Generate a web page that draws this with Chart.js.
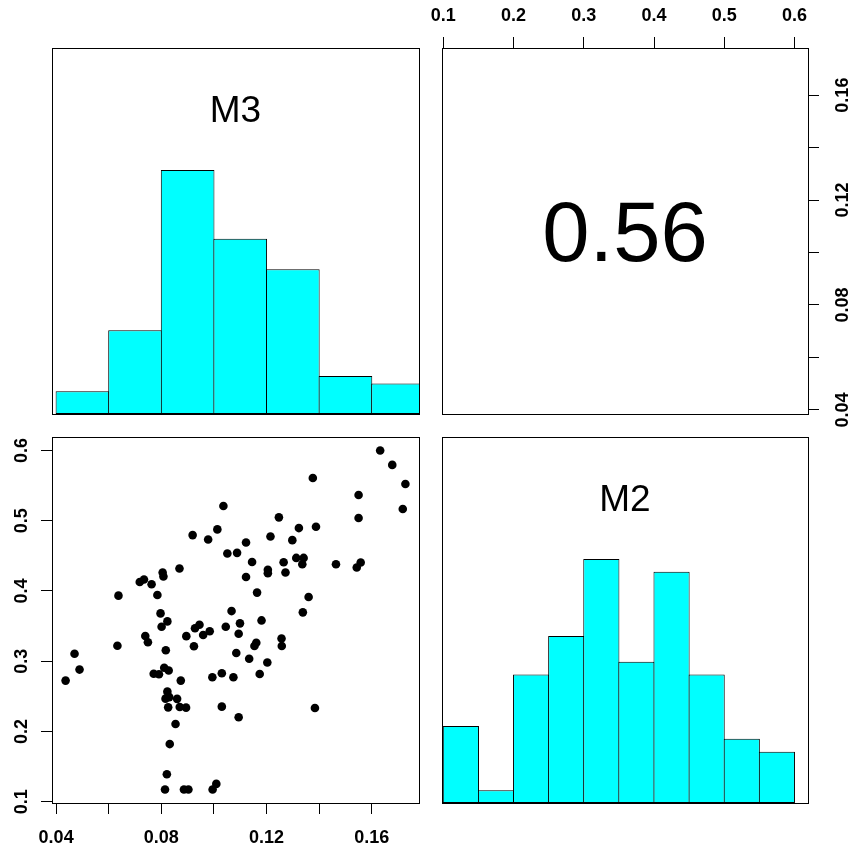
<!DOCTYPE html>
<html>
<head>
<meta charset="utf-8">
<title>M3 / M2 pairs</title>
<script src="https://cdn.jsdelivr.net/npm/chart.js@4.4.1/dist/chart.umd.min.js"></script>
<style>
    body { margin: 0; background: #fff; }
    #wrap { position: relative; width: 850px; height: 850px; background: #fff; }
    #wrap canvas { position: absolute; left: 0; top: 0; }
</style>
</head>
<body>
<div id="wrap">
    <canvas id="histM3" width="850" height="850"></canvas>
    <canvas id="corr" width="850" height="850"></canvas>
    <canvas id="scatter" width="850" height="850"></canvas>
    <canvas id="histM2" width="850" height="850"></canvas>
</div>
<script>
// ---- data ----
const m3 = [
    0.1632, 0.1678, 0.1728, 0.1718, 0.1376, 0.1550, 0.1550, 0.1036, 0.1247, 0.1323,
    0.1388, 0.0919, 0.0978, 0.1013, 0.1122, 0.1215, 0.1298, 0.1051, 0.1088, 0.1145,
    0.1205, 0.1205, 0.1265, 0.1272, 0.1313, 0.1341, 0.1336, 0.1464, 0.1543, 0.1558,
    0.1122, 0.1164, 0.1360, 0.1338, 0.0869, 0.0805, 0.0808, 0.0718, 0.0734, 0.0763,
    0.0785, 0.0637, 0.0797, 0.0823, 0.1067, 0.1099, 0.1181, 0.0801, 0.0739, 0.0749,
    0.0633, 0.0470, 0.0489, 0.0436, 0.0817, 0.0895, 0.0928, 0.0945, 0.0959, 0.0984,
    0.0924, 0.1045, 0.1094, 0.1085, 0.1161, 0.1154, 0.1257, 0.1258, 0.1134, 0.1203,
    0.1174, 0.0811, 0.0828, 0.0771, 0.0791, 0.0874, 0.0994, 0.1030, 0.1074, 0.0823,
    0.0816, 0.0830, 0.0860, 0.0826, 0.0870, 0.0894, 0.1030, 0.1094, 0.0854, 0.0832,
    0.0821, 0.0814, 0.0886, 0.0903, 0.0995, 0.1009, 0.1384
];
const m2 = [
    0.6000, 0.5796, 0.5524, 0.5167, 0.5610, 0.5367, 0.5039, 0.5210, 0.5049, 0.4896,
    0.4914, 0.4796, 0.4734, 0.4877, 0.4691, 0.4777, 0.4724, 0.4534, 0.4543, 0.4414,
    0.4303, 0.4253, 0.4410, 0.4263, 0.4471, 0.4471, 0.4381, 0.4381, 0.4334, 0.4406,
    0.4200, 0.3977, 0.3914, 0.3696, 0.4320, 0.4263, 0.4206, 0.4129, 0.4163, 0.4096,
    0.3943, 0.3934, 0.3681, 0.3567, 0.3714, 0.3539, 0.3581, 0.3491, 0.3360, 0.3270,
    0.3220, 0.3107, 0.2881, 0.2724, 0.3157, 0.3357, 0.3470, 0.3520, 0.3374, 0.3427,
    0.3214, 0.3491, 0.3391, 0.3117, 0.3264, 0.3217, 0.3324, 0.3217, 0.3036, 0.2981,
    0.2817, 0.2906, 0.2867, 0.2821, 0.2814, 0.2724, 0.2771, 0.2829, 0.2771, 0.2567,
    0.2467, 0.2489, 0.2464, 0.2343, 0.2349, 0.2339, 0.2353, 0.2203, 0.2106, 0.1820,
    0.1391, 0.1174, 0.1174, 0.1174, 0.1174, 0.1253, 0.2334
];

const m3Breaks = [0.04, 0.06, 0.08, 0.10, 0.12, 0.14, 0.16, 0.18];
const m3Counts = [3, 11, 32, 23, 19, 5, 4];
const m2Breaks = [0.10, 0.15, 0.20, 0.25, 0.30, 0.35, 0.40, 0.45, 0.50, 0.55, 0.60];
const m2Counts = [6, 1, 10, 13, 19, 11, 18, 10, 5, 4];

const m3Ticks = [0.04, 0.06, 0.08, 0.10, 0.12, 0.14, 0.16];
const m3Labels = ['0.04', '', '0.08', '', '0.12', '', '0.16'];
const m2Ticks = [0.1, 0.2, 0.3, 0.4, 0.5, 0.6];
const m2Labels = ['0.1', '0.2', '0.3', '0.4', '0.5', '0.6'];

const corrText = '0.56';

// ---- helpers ----
const FONT = "'Liberation Sans', Arial, Helvetica, sans-serif";
const AXIS_BOX = 40;

// R style range: data range widened by 4% each side
function rRange(v) {
    const lo = Math.min(...v), hi = Math.max(...v), d = (hi - lo) * 0.04;
    return [lo - d, hi + d];
}
const m3Lim = rRange(m3);
const m2Lim = rRange(m2);

function axis(position, lim, show, ticks, labels, pad) {
    const vertical = position === 'left' || position === 'right';
    return {
        type: 'linear', position, display: show, min: lim[0], max: lim[1], offset: false,
        afterBuildTicks: s => { if (ticks) s.ticks = ticks.map(v => ({ value: v })); },
        afterFit: s => {
            if (!show) return;
            if (vertical) s.width = AXIS_BOX; else s.height = AXIS_BOX;
        },
        grid: { drawOnChartArea: false, drawTicks: true, tickLength: 11, color: '#000', lineWidth: 1 },
        border: { display: false },
        ticks: {
            autoSkip: false, padding: pad || 0, color: '#000',
            minRotation: vertical ? 90 : 0, maxRotation: vertical ? 90 : 0,
            crossAlign: 'center',
            font: { family: FONT, size: 18, weight: 'bold' },
            callback: (v, i) => labels ? labels[i] : ''
        }
    };
}

// panel frame + centred panel text
const framePlugin = {
    id: 'frame',
    afterDraw(chart, args, opts) {
        const a = chart.chartArea, ctx = chart.ctx;
        ctx.save();
        ctx.strokeStyle = '#000';
        ctx.lineWidth = 1;
        const l = Math.round(a.left), t = Math.round(a.top);
        ctx.strokeRect(l + 0.5, t + 0.5, Math.round(a.right) - l, Math.round(a.bottom) - t);
        if (opts.text) {
            ctx.fillStyle = '#000';
            ctx.font = `${opts.size}px ${FONT}`;
            ctx.textAlign = 'center';
            ctx.textBaseline = 'alphabetic';
            const cy = a.top + opts.fy * (a.bottom - a.top);
            ctx.fillText(opts.text, (a.left + a.right) / 2, cy + 0.358 * opts.size);
        }
        ctx.restore();
    }
};

function baseOptions(padding, frame, scales) {
    return {
        responsive: false, animation: false, events: [],
        layout: { padding },
        plugins: { legend: { display: false }, tooltip: { enabled: false }, frame },
        scales
    };
}

function histData(breaks, counts) {
    return counts.map((c, i) => ({ x: (breaks[i] + breaks[i + 1]) / 2, y: c }));
}

function histChart(id, breaks, counts, lim, padding, label, barPct) {
    return new Chart(document.getElementById(id), {
        type: 'bar',
        data: {
            datasets: [{
                data: histData(breaks, counts),
                backgroundColor: '#00FFFF', borderColor: '#000', borderWidth: 1,
                borderSkipped: false, barPercentage: barPct, categoryPercentage: 1
            }]
        },
        options: baseOptions(padding, { text: label, size: 37, fy: 0.167 }, {
            x: axis('bottom', lim, false),
            y: axis('left', [0, Math.max(...counts) * 1.5], false)
        }),
        plugins: [framePlugin]
    });
}

// ---- panels ----
histChart('histM3', m3Breaks, m3Counts, m3Lim, { left: 52, top: 48, right: 431, bottom: 436 }, 'M3', 1.02);
histChart('histM2', m2Breaks, m2Counts, m2Lim, { left: 442, top: 437, right: 42, bottom: 47 }, 'M2', 1.03);

new Chart(document.getElementById('scatter'), {
    type: 'scatter',
    data: {
        datasets: [{
            data: m3.map((v, i) => ({ x: v, y: m2[i] })),
            pointRadius: 4.3, pointBackgroundColor: '#000', pointBorderWidth: 0
        }]
    },
    options: baseOptions({ left: 52 - AXIS_BOX, top: 437, right: 431, bottom: 850 - 803 - AXIS_BOX }, {}, {
        x: axis('bottom', m3Lim, true, m3Ticks, m3Labels, 24),
        y: axis('left', m2Lim, true, m2Ticks, m2Labels, 6)
    }),
    plugins: [framePlugin]
});

new Chart(document.getElementById('corr'), {
    type: 'scatter',
    data: { datasets: [{ data: [] }] },
    options: baseOptions({ left: 442, top: 48 - AXIS_BOX, right: 850 - 808 - AXIS_BOX, bottom: 436 },
        { text: corrText, size: 85, fy: 0.5 }, {
        x: axis('top', m2Lim, true, m2Ticks, m2Labels, 21),
        y: axis('right', m3Lim, true, m3Ticks, m3Labels, 7)
    }),
    plugins: [framePlugin]
});
</script>
</body>
</html>
